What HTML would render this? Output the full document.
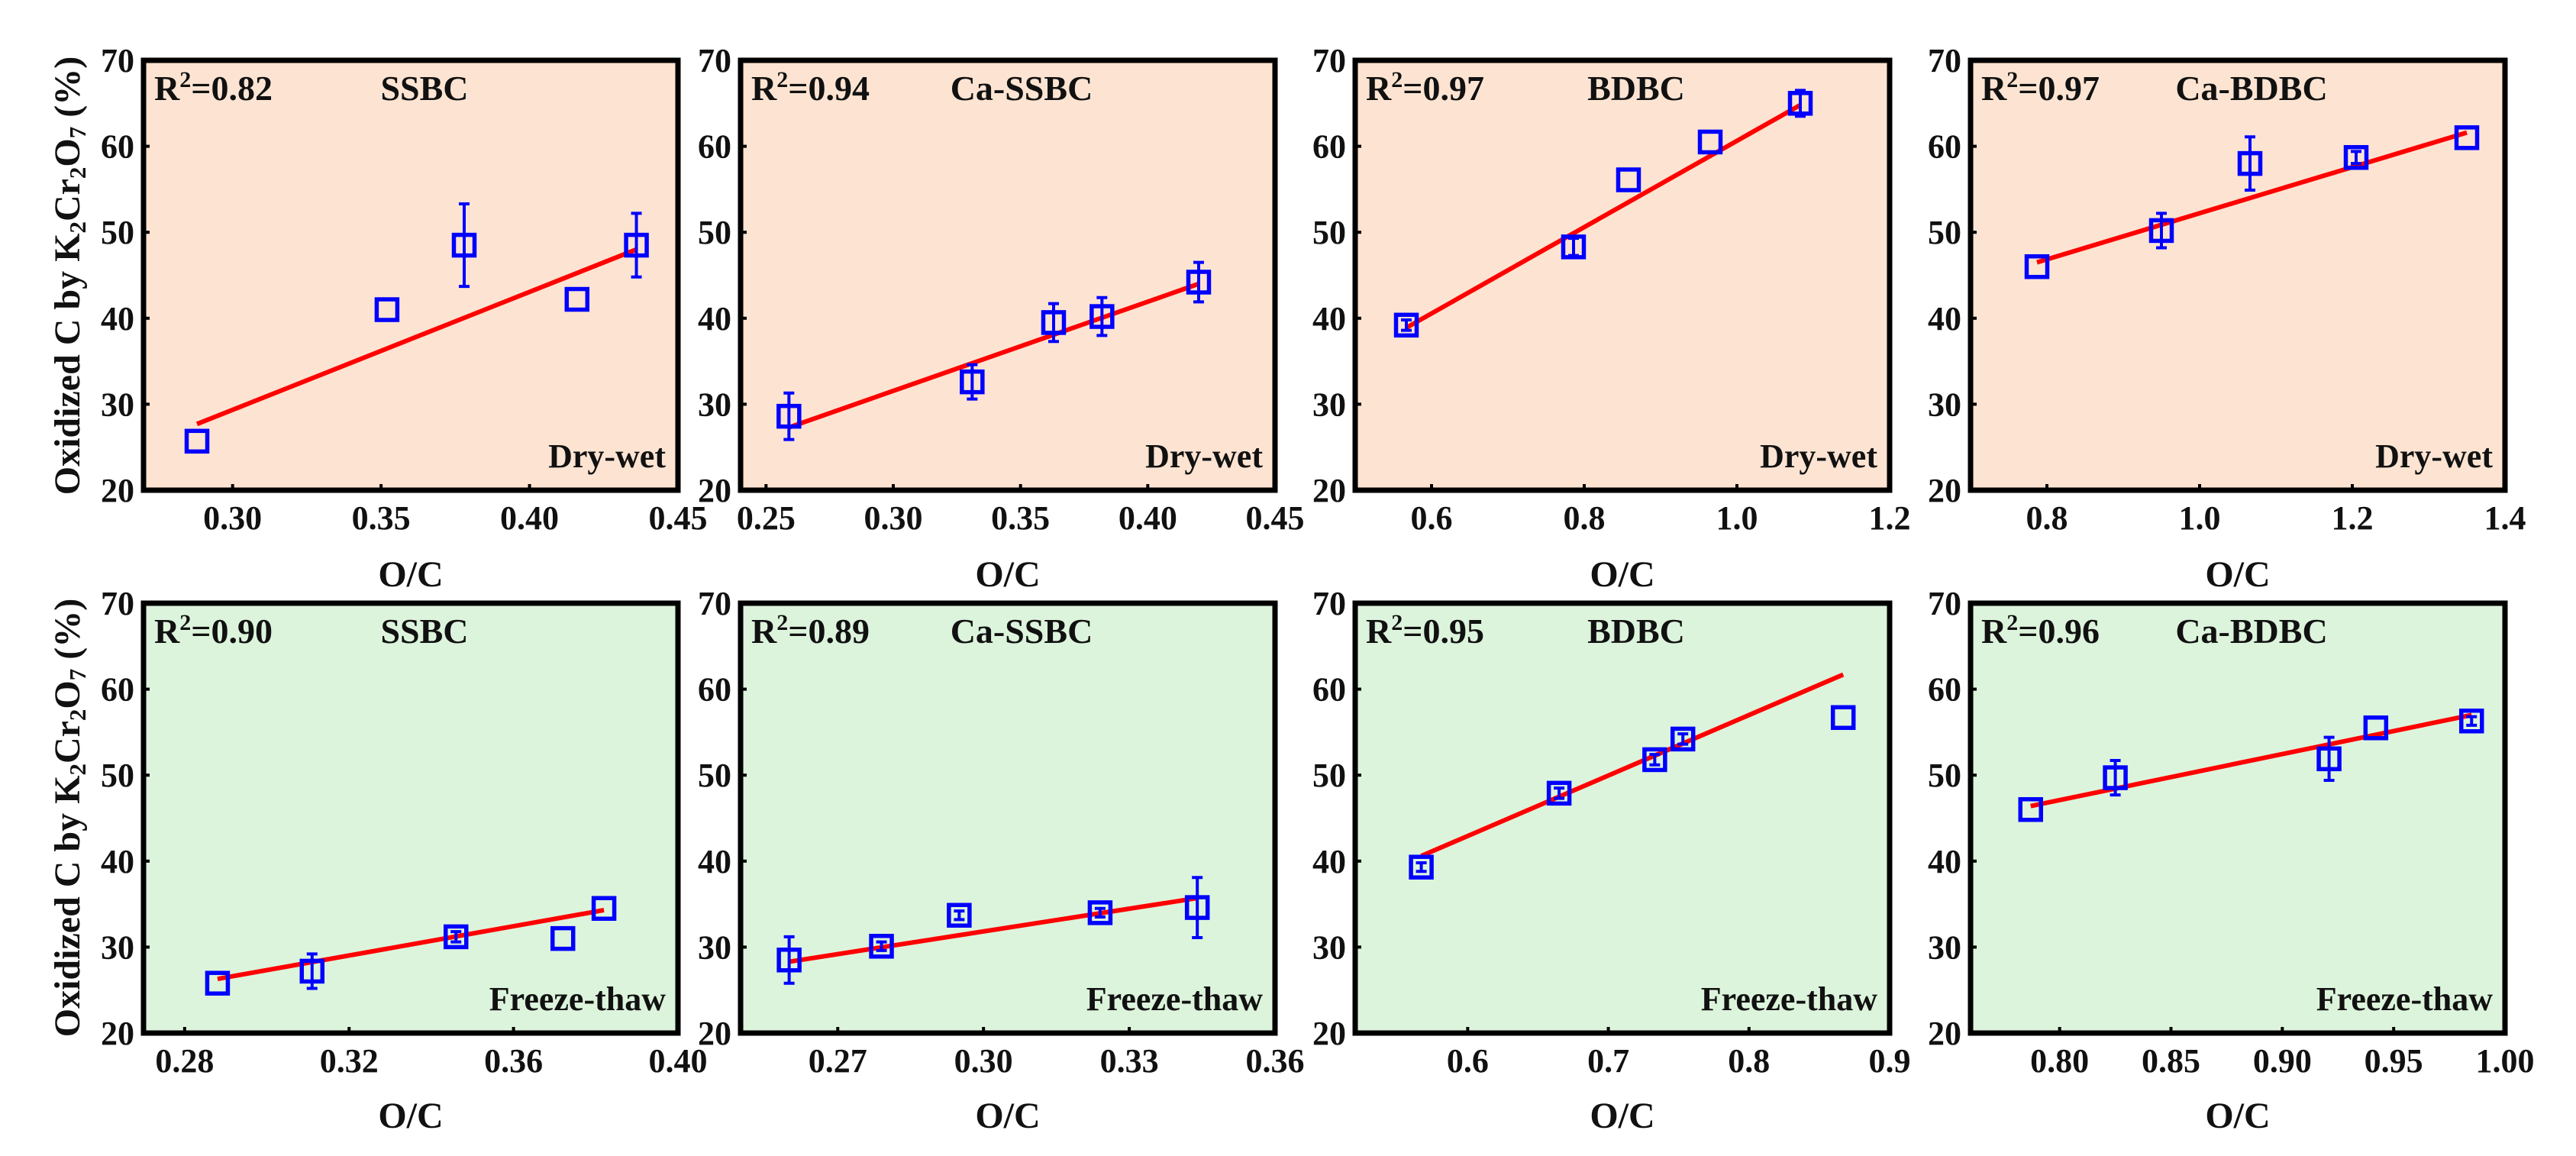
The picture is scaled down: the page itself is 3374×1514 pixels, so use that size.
<!DOCTYPE html>
<html><head><meta charset="utf-8">
<style>
html,body{margin:0;padding:0;background:#fff;}
svg{display:block;}
text{font-family:"Liberation Serif",serif;font-weight:bold;fill:#111;}
</style></head>
<body>
<svg id="fig" width="3374" height="1514" viewBox="0 0 3374 1514" xmlns="http://www.w3.org/2000/svg">
<text transform="translate(104,361) rotate(-90)" text-anchor="middle" font-size="48">Oxidized C by K<tspan font-size="31" dy="8">2</tspan><tspan dy="-8">Cr</tspan><tspan font-size="31" dy="8">2</tspan><tspan dy="-8">O</tspan><tspan font-size="31" dy="8">7</tspan><tspan dy="-8"> (%)</tspan></text>
<text transform="translate(104,1071) rotate(-90)" text-anchor="middle" font-size="48">Oxidized C by K<tspan font-size="31" dy="8">2</tspan><tspan dy="-8">Cr</tspan><tspan font-size="31" dy="8">2</tspan><tspan dy="-8">O</tspan><tspan font-size="31" dy="8">7</tspan><tspan dy="-8"> (%)</tspan></text>
</svg>
<script>
// Panel data (top row: Dry-wet, bottom row: Freeze-thaw)
const panelNames = ["SSBC","Ca-SSBC","BDBC","Ca-BDBC","SSBC","Ca-SSBC","BDBC","Ca-BDBC"];
const panelR2 = ["0.82","0.94","0.97","0.97","0.90","0.89","0.95","0.96"];
const panelCond = ["Dry-wet","Dry-wet","Dry-wet","Dry-wet","Freeze-thaw","Freeze-thaw","Freeze-thaw","Freeze-thaw"];
const xDomains = [[0.27,0.45],[0.24,0.45],[0.5,1.2],[0.7,1.4],[0.27,0.40],[0.25,0.36],[0.52,0.9],[0.76,1.0]];
const xTickLabels = [
 ["0.30","0.35","0.40","0.45"],["0.25","0.30","0.35","0.40","0.45"],["0.6","0.8","1.0","1.2"],["0.8","1.0","1.2","1.4"],
 ["0.28","0.32","0.36","0.40"],["0.27","0.30","0.33","0.36"],["0.6","0.7","0.8","0.9"],["0.80","0.85","0.90","0.95","1.00"]];
const yTickLabels = ["20","30","40","50","60","70"];
const pointsX = [
 [0.288,0.352,0.378,0.416,0.436],[0.259,0.331,0.363,0.382,0.420],[0.567,0.786,0.858,0.965,1.083],[0.787,0.950,1.066,1.205,1.350],
 [0.288,0.311,0.346,0.372,0.382],[0.260,0.279,0.295,0.324,0.344],[0.567,0.665,0.733,0.753,0.867],[0.787,0.825,0.921,0.942,0.985]];
const pointsY = [
 [25.7,41.0,48.5,42.2,48.5],[28.6,32.6,39.5,40.2,44.2],[39.2,48.3,56.1,60.5,65.0],[46.0,50.2,58.0,58.7,61.0],
 [25.8,27.2,31.2,31.0,34.5],[28.5,30.1,33.7,34.0,34.6],[39.3,47.9,51.8,54.2,56.7],[46.0,49.7,51.9,55.5,56.3]];
const pointsErr = [
 [0,0,4.8,0,3.7],[2.7,2.0,2.2,2.2,2.3],[0.6,1.0,0,0,1.5],[0,2.0,3.1,0.7,0],
 [0,2.0,0.6,0,0],[2.7,0.5,0.5,0.5,3.5],[0.5,0.6,0.6,0.6,0],[0,2.0,2.5,0,0.5]];
const fitStart = [[0.288,27.7],[0.259,27.3],[0.567,38.9],[0.787,46.5],[0.288,26.3],[0.260,28.3],[0.567,40.6],[0.787,46.4]];
const fitEnd = [[0.436,48.0],[0.420,44.0],[1.083,64.8],[1.350,61.6],[0.382,34.3],[0.344,35.7],[0.867,61.7],[0.985,57.0]];

const NS="http://www.w3.org/2000/svg";
const svg=document.getElementById('fig');
const colLeft=[188,970,1775,2581], pw=700;
const rowTop=[79,790], ph=563;
function mk(tag,attrs,parent){const e=document.createElementNS(NS,tag);for(const k in attrs)e.setAttribute(k,attrs[k]);(parent||svg).appendChild(e);return e;}

for(let p=0;p<8;p++){
  const L=colLeft[p%4], T=rowTop[Math.floor(p/4)], R=L+pw, B=T+ph;
  const g=mk('g',{});
  
  
  const [x0,x1]=xDomains[p];
  const sx=v=>L+(v-x0)/(x1-x0)*pw;
  const sy=v=>B-(v-20)/50*ph;
  const bg=mk('rect',{x:L,y:T,width:pw,height:ph,fill:p<4?'#fde4d2':'#ddf4dc'},g);
  
  
  yTickLabels.forEach(t=>{
    const v=+t,y=sy(v);
    if(v>20&&v<70) mk('line',{x1:L,x2:L+8,y1:y,y2:y,stroke:'#000','stroke-width':4},g);
    const tx=mk('text',{x:L-12,y:y+15,'text-anchor':'end','font-size':44},g);
    tx.textContent=t;
    
    
  });
  xTickLabels[p].forEach(t=>{
    const x=sx(+t);
    if(x>L+3&&x<R-3) mk('line',{x1:x,x2:x,y1:B,y2:B-8,stroke:'#000','stroke-width':4},g);
    const tx=mk('text',{x:x,y:B+51,'text-anchor':'middle','font-size':44},g);
    tx.textContent=t;
    
    
  });
  const fl=mk('line',{x1:sx(fitStart[p][0]),y1:sy(fitStart[p][1]),x2:sx(fitEnd[p][0]),y2:sy(fitEnd[p][1]),stroke:'#ff0000','stroke-width':6},g);
  
  
  pointsX[p].forEach((xv,i)=>{
    const cx=sx(xv),cy=sy(pointsY[p][i]),e=pointsErr[p][i];
    if(e>0){
      const eb=mk('path',{d:`M${cx},${sy(pointsY[p][i]+e)}V${sy(pointsY[p][i]-e)}M${cx-7},${sy(pointsY[p][i]+e)}h14M${cx-7},${sy(pointsY[p][i]-e)}h14`,stroke:'#0000ff','stroke-width':4,fill:'none'},g);
      
      
    }
    const m=mk('rect',{x:cx-13.5,y:cy-13.5,width:27,height:27,fill:'none',stroke:'#0000ff','stroke-width':5.5},g);
    
    
  });
  const fr=mk('rect',{x:L,y:T,width:pw,height:ph,fill:'none',stroke:'#000','stroke-width':7},g);
  
  
  const r2=mk('text',{x:L+14,y:T+52,'font-size':46},g);
  r2.innerHTML='R<tspan font-size="30" dy="-17">2</tspan><tspan dy="17">='+panelR2[p]+'</tspan>';
  
  
  const nm=mk('text',{x:L+pw/2+18,y:T+52,'text-anchor':'middle','font-size':46},g);
  nm.textContent=panelNames[p];
  
  
  const cd=mk('text',{x:R-16,y:B-30,'text-anchor':'end','font-size':44},g);
  cd.textContent=panelCond[p];
  
  
  const xl=mk('text',{x:L+pw/2,y:p<4?768:1477,'text-anchor':'middle','font-size':48},g);
  xl.textContent='O/C';
  
  
}
</script>
</body></html>
